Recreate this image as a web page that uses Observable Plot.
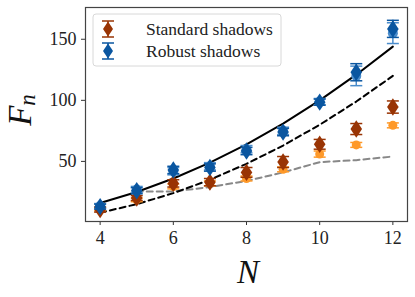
<!DOCTYPE html>
<html>
<head>
<meta charset="utf-8">
<script src="https://cdn.jsdelivr.net/npm/d3@7"></script>
<script src="https://cdn.jsdelivr.net/npm/@observablehq/plot@0.6"></script>
<style>
  html, body { margin: 0; padding: 0; background: #fff; }
  #chart { width: 415px; height: 297px; }
</style>
</head>
<body>
<div id="chart"></div>
<script>
// ---- data ----
const N = [4, 5, 6, 7, 8, 9, 10, 11, 12];
const robust      = [13, 26, 43, 45, 58.5, 74, 98.5, 123, 158.5];
const robustErr   = [2, 2.5, 3, 3, 3, 3, 2.5, 7, 7];
const robustAlt   = [13.5, 27, 42, 46, 60, 75, 99, 120, 155];
const robustAltErr= [2, 2.5, 3, 3, 3, 3, 2.5, 8, 8.5];
const standard    = [10.5, 20, 32, 33, 41, 49.5, 64, 76.5, 94.5];
const standardErr = [2, 2, 3, 3, 4, 4.5, 4, 4.5, 5];
const orange      = [11, 18.5, 29.5, 32, 36, 43.5, 56, 63.5, 79.5];
const orangeErr   = [1.5, 1.5, 2, 2, 2, 2, 2.5, 2, 2];
const solidRef    = [16, 25, 36, 49, 64, 81, 100, 121, 144];
const dashedRef   = [8, 15, 24, 35, 48, 63, 80, 99, 120];
const greyN       = [5, 6, 7, 8, 9, 10, 11, 12];
const greyRef     = [25.4, 25.4, 29, 34, 41, 49.4, 51, 54];
const xTicks = [4, 6, 8, 10, 12];
const yTicks = [50, 100, 150];
const legendLabels = ["Standard shadows", "Robust shadows"];

const C = {
  blue: "#0a56a0", lightBlue: "#4a8ccb",
  brown: "#993404", orange: "#fe9929"
};

const mk = (vals, errs) => N.map((n, i) => ({N: n, v: vals[i], e: errs[i]}));
const robustD = mk(robust, robustErr);
const robustAltD = mk(robustAlt, robustAltErr);
const standardD = mk(standard, standardErr);
const orangeD = mk(orange, orangeErr);
const solidD = N.map((n, i) => ({N: n, v: solidRef[i]}));
const dashedD = N.map((n, i) => ({N: n, v: dashedRef[i]}));
const greyD = greyN.map((n, i) => ({N: n, v: greyRef[i]}));

const diamond = { draw(ctx, size) { const r = Math.sqrt(size / Math.PI);
  ctx.moveTo(0, -1.5 * r); ctx.lineTo(r, 0); ctx.lineTo(0, 1.5 * r); ctx.lineTo(-r, 0); ctx.closePath(); } };
const cap = { draw(ctx, size) { const r = Math.sqrt(size / Math.PI);
  ctx.moveTo(-r, 0); ctx.lineTo(r, 0); } };

function errMarks(data, color, sw) {
  return [
    Plot.ruleX(data, {x: "N", y1: d => d.v - d.e, y2: d => d.v + d.e, stroke: color, strokeWidth: sw}),
    Plot.dot(data, {x: "N", y: d => d.v + d.e, symbol: cap, r: 6, stroke: color, strokeWidth: sw, fill: "none"}),
    Plot.dot(data, {x: "N", y: d => d.v - d.e, symbol: cap, r: 6, stroke: color, strokeWidth: sw, fill: "none"})
  ];
}

const font = "'Liberation Serif', 'DejaVu Serif', serif";

const plot = Plot.plot({
  width: 415, height: 297,
  marginLeft: 85, marginRight: 8, marginTop: 7, marginBottom: 76,
  style: {fontFamily: font, fontSize: "18px", background: "#fff", overflow: "visible"},
  x: {domain: [3.6, 12.4], ticks: xTicks},
  y: {domain: [0.8, 176], ticks: yTicks},
  marks: [
    Plot.line(greyD, {x: "N", y: "v", stroke: "#888", strokeWidth: 2, strokeDasharray: "6,4"}),
    Plot.line(dashedD, {x: "N", y: "v", stroke: "#000", strokeWidth: 2, strokeDasharray: "6,4"}),
    Plot.line(solidD, {x: "N", y: "v", stroke: "#000", strokeWidth: 2}),
    ...errMarks(orangeD, C.orange, 1.5),
    Plot.dot(orangeD, {x: "N", y: "v", r: 4.5, fill: C.orange}),
    ...errMarks(standardD, C.brown, 1.5),
    Plot.dot(standardD, {x: "N", y: "v", symbol: diamond, r: 5.8, fill: C.brown}),
    ...errMarks(robustAltD, C.lightBlue, 1.5),
    Plot.dot(robustAltD, {x: "N", y: "v", r: 5, fill: C.lightBlue}),
    ...errMarks(robustD, C.blue, 1.5),
    Plot.dot(robustD, {x: "N", y: "v", symbol: diamond, r: 5.8, fill: C.blue}),
    Plot.axisX({ticks: xTicks, tickSize: 4, tickPadding: 6, label: null, fontSize: 18, stroke: "#333", fill: "#222"}),
    Plot.axisY({ticks: yTicks, tickSize: 4, tickPadding: 5, label: null, fontSize: 18, stroke: "#333", fill: "#222"}),
    Plot.frame({stroke: "#444", strokeWidth: 1.2})
  ]
});
document.getElementById("chart").appendChild(plot);

// axis labels and legend
const svg = d3.select(plot);
svg.append("text").attr("x", 248).attr("y", 283).attr("text-anchor", "middle")
  .style("font-family", font).attr("font-style", "italic").attr("font-size", 33).attr("fill", "#111").text("N");
const yl = svg.append("text").attr("transform", "translate(31,110) rotate(-90)").attr("text-anchor", "middle")
  .style("font-family", font).attr("font-style", "italic").attr("fill", "#111");
yl.append("tspan").attr("font-size", 33).text("F");
yl.append("tspan").attr("font-size", 23).attr("dy", 4).text("n");

const lg = svg.append("g");
lg.append("rect").attr("x", 93).attr("y", 14).attr("width", 188).attr("height", 52).attr("rx", 3)
  .attr("fill", "#fff").attr("fill-opacity", 0.85).attr("stroke", "#d8d8d8");
[C.brown, C.blue].forEach((c, i) => {
  const cy = 29 + i * 22, cx = 108;
  const g = lg.append("g").attr("stroke", c).attr("stroke-width", 1.5);
  g.append("line").attr("x1", cx).attr("x2", cx).attr("y1", cy - 8).attr("y2", cy + 8);
  g.append("line").attr("x1", cx - 6).attr("x2", cx + 6).attr("y1", cy - 8).attr("y2", cy - 8);
  g.append("line").attr("x1", cx - 6).attr("x2", cx + 6).attr("y1", cy + 8).attr("y2", cy + 8);
  lg.append("path").attr("d", `M${cx},${cy - 7.5}L${cx + 5},${cy}L${cx},${cy + 7.5}L${cx - 5},${cy}Z`).attr("fill", c);
  lg.append("text").attr("x", 146).attr("y", cy + 6).attr("text-anchor", "start")
    .style("font-family", font).style("font-size", "17.5px")
    .attr("fill", "#222").text(legendLabels[i]);
});
</script>
</body>
</html>
